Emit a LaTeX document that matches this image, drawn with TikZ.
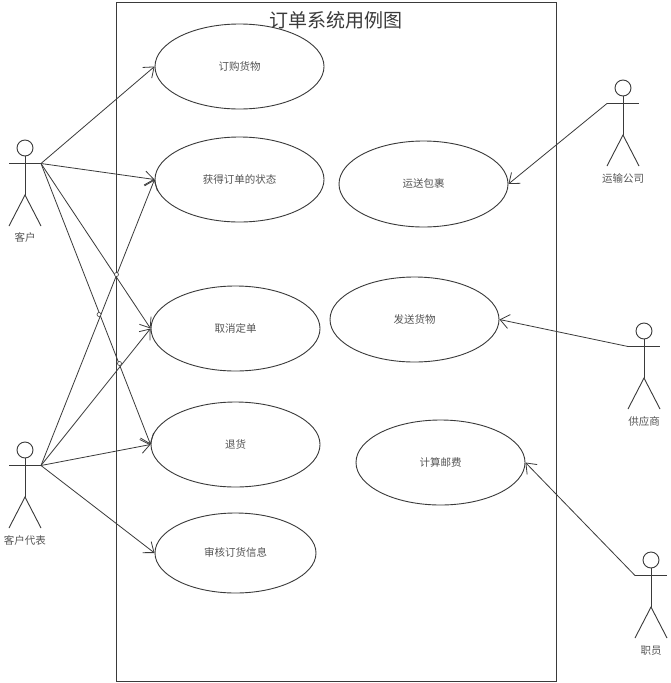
\documentclass[tikz,border=0pt]{standalone}
\usepackage{fontspec}
\setmainfont{Noto Sans CJK SC}
\usetikzlibrary{shapes.geometric,arrows.meta}
\definecolor{ink}{HTML}{3A3A3A}
\definecolor{txt}{HTML}{555555}
\tikzset{
  x=1pt,y=-1pt,
  usecase/.style={draw=ink,line width=0.9pt,shape=ellipse,inner sep=0pt,text=txt,font=\fontsize{10.5}{12}\selectfont},
  lbl/.style={inner sep=0pt,text=txt,font=\fontsize{10.5}{12}\selectfont},
  figure line/.style={draw=ink,line width=0.9pt},
  assoc/.style={draw=ink,line width=0.8pt,-{Straight Barb[length=9pt,width=14pt,line width=0.8pt]},shorten >=0pt},
  hop/.style={draw=ink,line width=0.6pt,fill=white,circle,inner sep=0pt,minimum size=4pt}
}
% #1 name, #2 cx, #3 head cy, #4 label, #5 label y
\newcommand{\actorfig}[5]{%
  \node[figure line,circle,inner sep=0pt,minimum size=16pt] (#1head) at (#2,#3) {};
  \coordinate (#1L) at (#2-16,#3+15.5);
  \coordinate (#1R) at (#2+16,#3+15.5);
  \coordinate (#1hip) at (#2,#3+47);
  \coordinate (#1fl) at (#2-16,#3+78);
  \coordinate (#1fr) at (#2+16,#3+78);
  \draw[figure line] (#1L) -- (#1R);
  \draw[figure line] (#1head) -- (#1hip);
  \draw[figure line] (#1fl) -- (#1hip) -- (#1fr);
  \node[lbl] (#1label) at (#2,#5) {#4};
}
\begin{document}
\begin{tikzpicture}
\useasboundingbox (0,0) rectangle (670,683);
\fill[white] (0,0) rectangle (670,683);
\node[draw=ink,line width=1pt,minimum width=440pt,minimum height=679pt,inner sep=0pt] (frame) at (336,341.5) {};
\node[inner sep=0pt,text=ink,font=\fontsize{19}{22}\selectfont] (title) at (336,20.5) {订单系统用例图};

\node[usecase,minimum width=169pt,minimum height=85pt] (u1) at (239.5,66.5) {\raisebox{1pt}{订购货物}};
\node[usecase,minimum width=169pt,minimum height=85pt] (u2) at (239.5,179.5) {\raisebox{1pt}{获得订单的状态}};
\node[usecase,minimum width=169pt,minimum height=85pt] (u3) at (235.5,328.5) {\raisebox{1pt}{取消定单}};
\node[usecase,minimum width=169pt,minimum height=85pt] (u4) at (235.5,444.5) {\raisebox{1pt}{退货}};
\node[usecase,minimum width=161pt,minimum height=80pt] (u5) at (235.5,553) {\raisebox{1pt}{审核订货信息}};
\node[usecase,minimum width=169pt,minimum height=86pt] (u6) at (423.5,184) {\raisebox{1pt}{运送包裹}};
\node[usecase,minimum width=169pt,minimum height=85pt] (u7) at (414.5,319.5) {\raisebox{1pt}{发送货物}};
\node[usecase,minimum width=169pt,minimum height=85pt] (u8) at (440.5,462.5) {\raisebox{1pt}{计算邮费}};

\actorfig{a}{25}{148}{客户}{237}
\actorfig{b}{25}{450}{客户代表}{540}
\actorfig{c}{623}{88}{运输公司}{179}
\actorfig{d}{644}{331}{供应商}{421}
\actorfig{e}{651}{560}{职员}{651}

\draw[assoc] (aR) -- (u1.west);
\draw[assoc] (aR) -- (u2.west);
\draw[assoc] (aR) -- (u3.west);
\draw[assoc] (aR) -- (u4.west);
\draw[assoc] (bR) -- (u2.west);
\draw[assoc] (bR) -- (u3.west);
\draw[assoc] (bR) -- (u4.west);
\draw[assoc] (bR) -- (u5.west);
\draw[assoc] (cL) -- (u6.east);
\draw[assoc] (dL) -- (u7.east);
\draw[assoc] (eL) -- (u8.east);

\node[hop] (h1) at (116.5,274.5) {};
\node[hop] (h2) at (99,314.5) {};
\node[hop] (h3) at (119.5,363.5) {};
\end{tikzpicture}
\end{document}
